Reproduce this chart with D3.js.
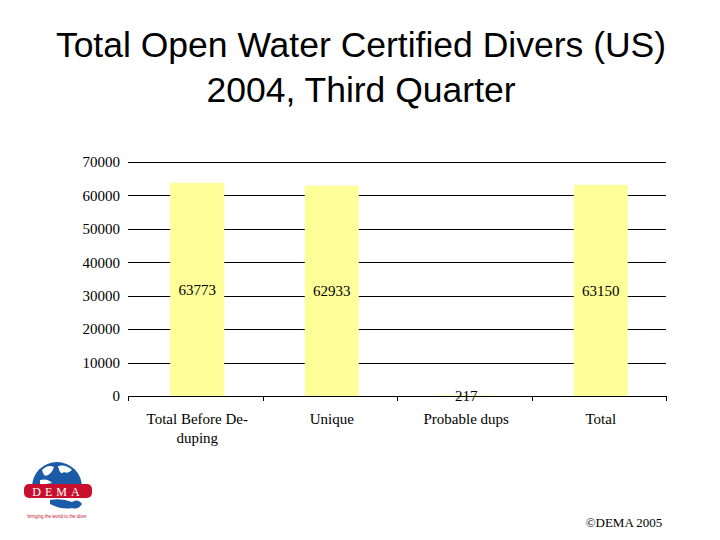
<!DOCTYPE html>
<html><head><meta charset="utf-8">
<script src="https://cdn.jsdelivr.net/npm/d3@7"></script>
<style>body{margin:0;background:#fff;}svg{display:block;}</style>
</head><body>
<svg id="c" width="720" height="540"></svg>
<script>
const categories = ["Total Before De-|duping", "Unique", "Probable dups", "Total"];
const values = [63773, 62933, 217, 63150];
const yTicks = [0, 10000, 20000, 30000, 40000, 50000, 60000, 70000];
const titleLines = ["Total Open Water Certified Divers (US)", "2004, Third Quarter"];

const svg = d3.select("#c");
const L = 128, R = 666, T = 162, B = 396;
const x = d3.scaleBand().domain(categories).range([L, R]).paddingInner(0).paddingOuter(0);
const y = d3.scaleLinear().domain([0, 70000]).range([B, T]);
const serif = "'Liberation Serif','Times New Roman',serif";

// title
svg.selectAll("text.title").data(titleLines).enter().append("text")
  .attr("x", 361).attr("y", (d, i) => 57 + i * 45)
  .attr("text-anchor", "middle")
  .attr("font-family", "'Liberation Sans',Arial,sans-serif")
  .attr("font-size", 35.5).attr("fill", "#000").text(d => d);

// gridlines
svg.append("g").selectAll("line").data(yTicks).enter().append("line")
  .attr("x1", L).attr("x2", R)
  .attr("y1", d => Math.round(y(d)) + 0.5).attr("y2", d => Math.round(y(d)) + 0.5)
  .attr("stroke", "#000").attr("stroke-width", 1);

// y tick labels
svg.append("g").selectAll("text").data(yTicks).enter().append("text")
  .attr("x", 120).attr("y", d => y(d)).attr("dy", "0.35em")
  .attr("text-anchor", "end").attr("font-family", serif).attr("font-size", 15)
  .text(d => d);

// bars
const bw = 54;
svg.append("g").selectAll("rect").data(values).enter().append("rect")
  .attr("x", (d, i) => x(categories[i]) + x.bandwidth() / 2 - bw / 2 + 2)
  .attr("width", bw)
  .attr("y", d => y(d)).attr("height", d => B - y(d))
  .attr("fill", "#ffff99");

// category tick marks
const bounds = categories.map(c => x(c)).concat([R]);
svg.append("g").selectAll("line").data(bounds).enter().append("line")
  .attr("x1", d => Math.round(d) + 0.5).attr("x2", d => Math.round(d) + 0.5)
  .attr("y1", B).attr("y2", B + 5).attr("stroke", "#000");

// value labels (center of bar)
svg.append("g").selectAll("text").data(values).enter().append("text")
  .attr("x", (d, i) => x(categories[i]) + x.bandwidth() / 2 + 2)
  .attr("y", d => y(d / 2)).attr("dy", "0.35em")
  .attr("text-anchor", "middle").attr("font-family", serif).attr("font-size", 15)
  .text(d => d);

// category labels
const cg = svg.append("g");
categories.forEach(c => {
  const t = cg.append("text").attr("text-anchor", "middle")
    .attr("font-family", serif).attr("font-size", 15);
  c.split("|").forEach((line, j) => {
    t.append("tspan").attr("x", x(c) + x.bandwidth() / 2 + 2).attr("y", 424 + j * 19).text(line);
  });
});

// DEMA logo (approximation)
const lg = svg.append("g");
const globe = lg.append("g");
globe.append("path")
  .attr("d", d3.arc()({innerRadius: 0, outerRadius: 25, startAngle: -Math.PI / 2, endAngle: Math.PI / 2}))
  .attr("transform", "translate(57,487)").attr("fill", "#1a5aa6");
globe.append("path").attr("d", "M42,470 q6,-6 12,-3 q-2,6 -6,8 q-4,3 -6,-5 Z M58,466 q8,-2 14,4 q-4,4 -8,2 q-4,4 -6,-6 Z M40,480 q8,-2 12,3 l-12,2 Z")
  .attr("fill", "#fff");
lg.append("rect").attr("x", 24).attr("y", 484).attr("width", 68).attr("height", 14).attr("rx", 5)
  .attr("fill", "#c8102e");
lg.append("text").attr("x", 58).attr("y", 495.5).attr("text-anchor", "middle")
  .attr("font-family", serif).attr("font-size", 12).attr("fill", "#fff")
  .attr("letter-spacing", 4).text("DEMA");
lg.append("path").attr("d", "M50,500 q12,-2 22,2 q6,-4 10,2 q-4,6 -10,4 q-10,2 -22,-4 Z").attr("fill", "#1a5aa6");
lg.append("text").attr("x", 57).attr("y", 518).attr("text-anchor", "middle")
  .attr("font-family", "'Liberation Sans',Arial,sans-serif").attr("font-size", 4.5).attr("fill", "#c8102e")
  .text("bringing the world to the diver");

// copyright
svg.append("text").attr("x", 624).attr("y", 527).attr("text-anchor", "middle")
  .attr("font-family", serif).attr("font-size", 13).text("\u00A9DEMA 2005");
</script>
</body></html>
